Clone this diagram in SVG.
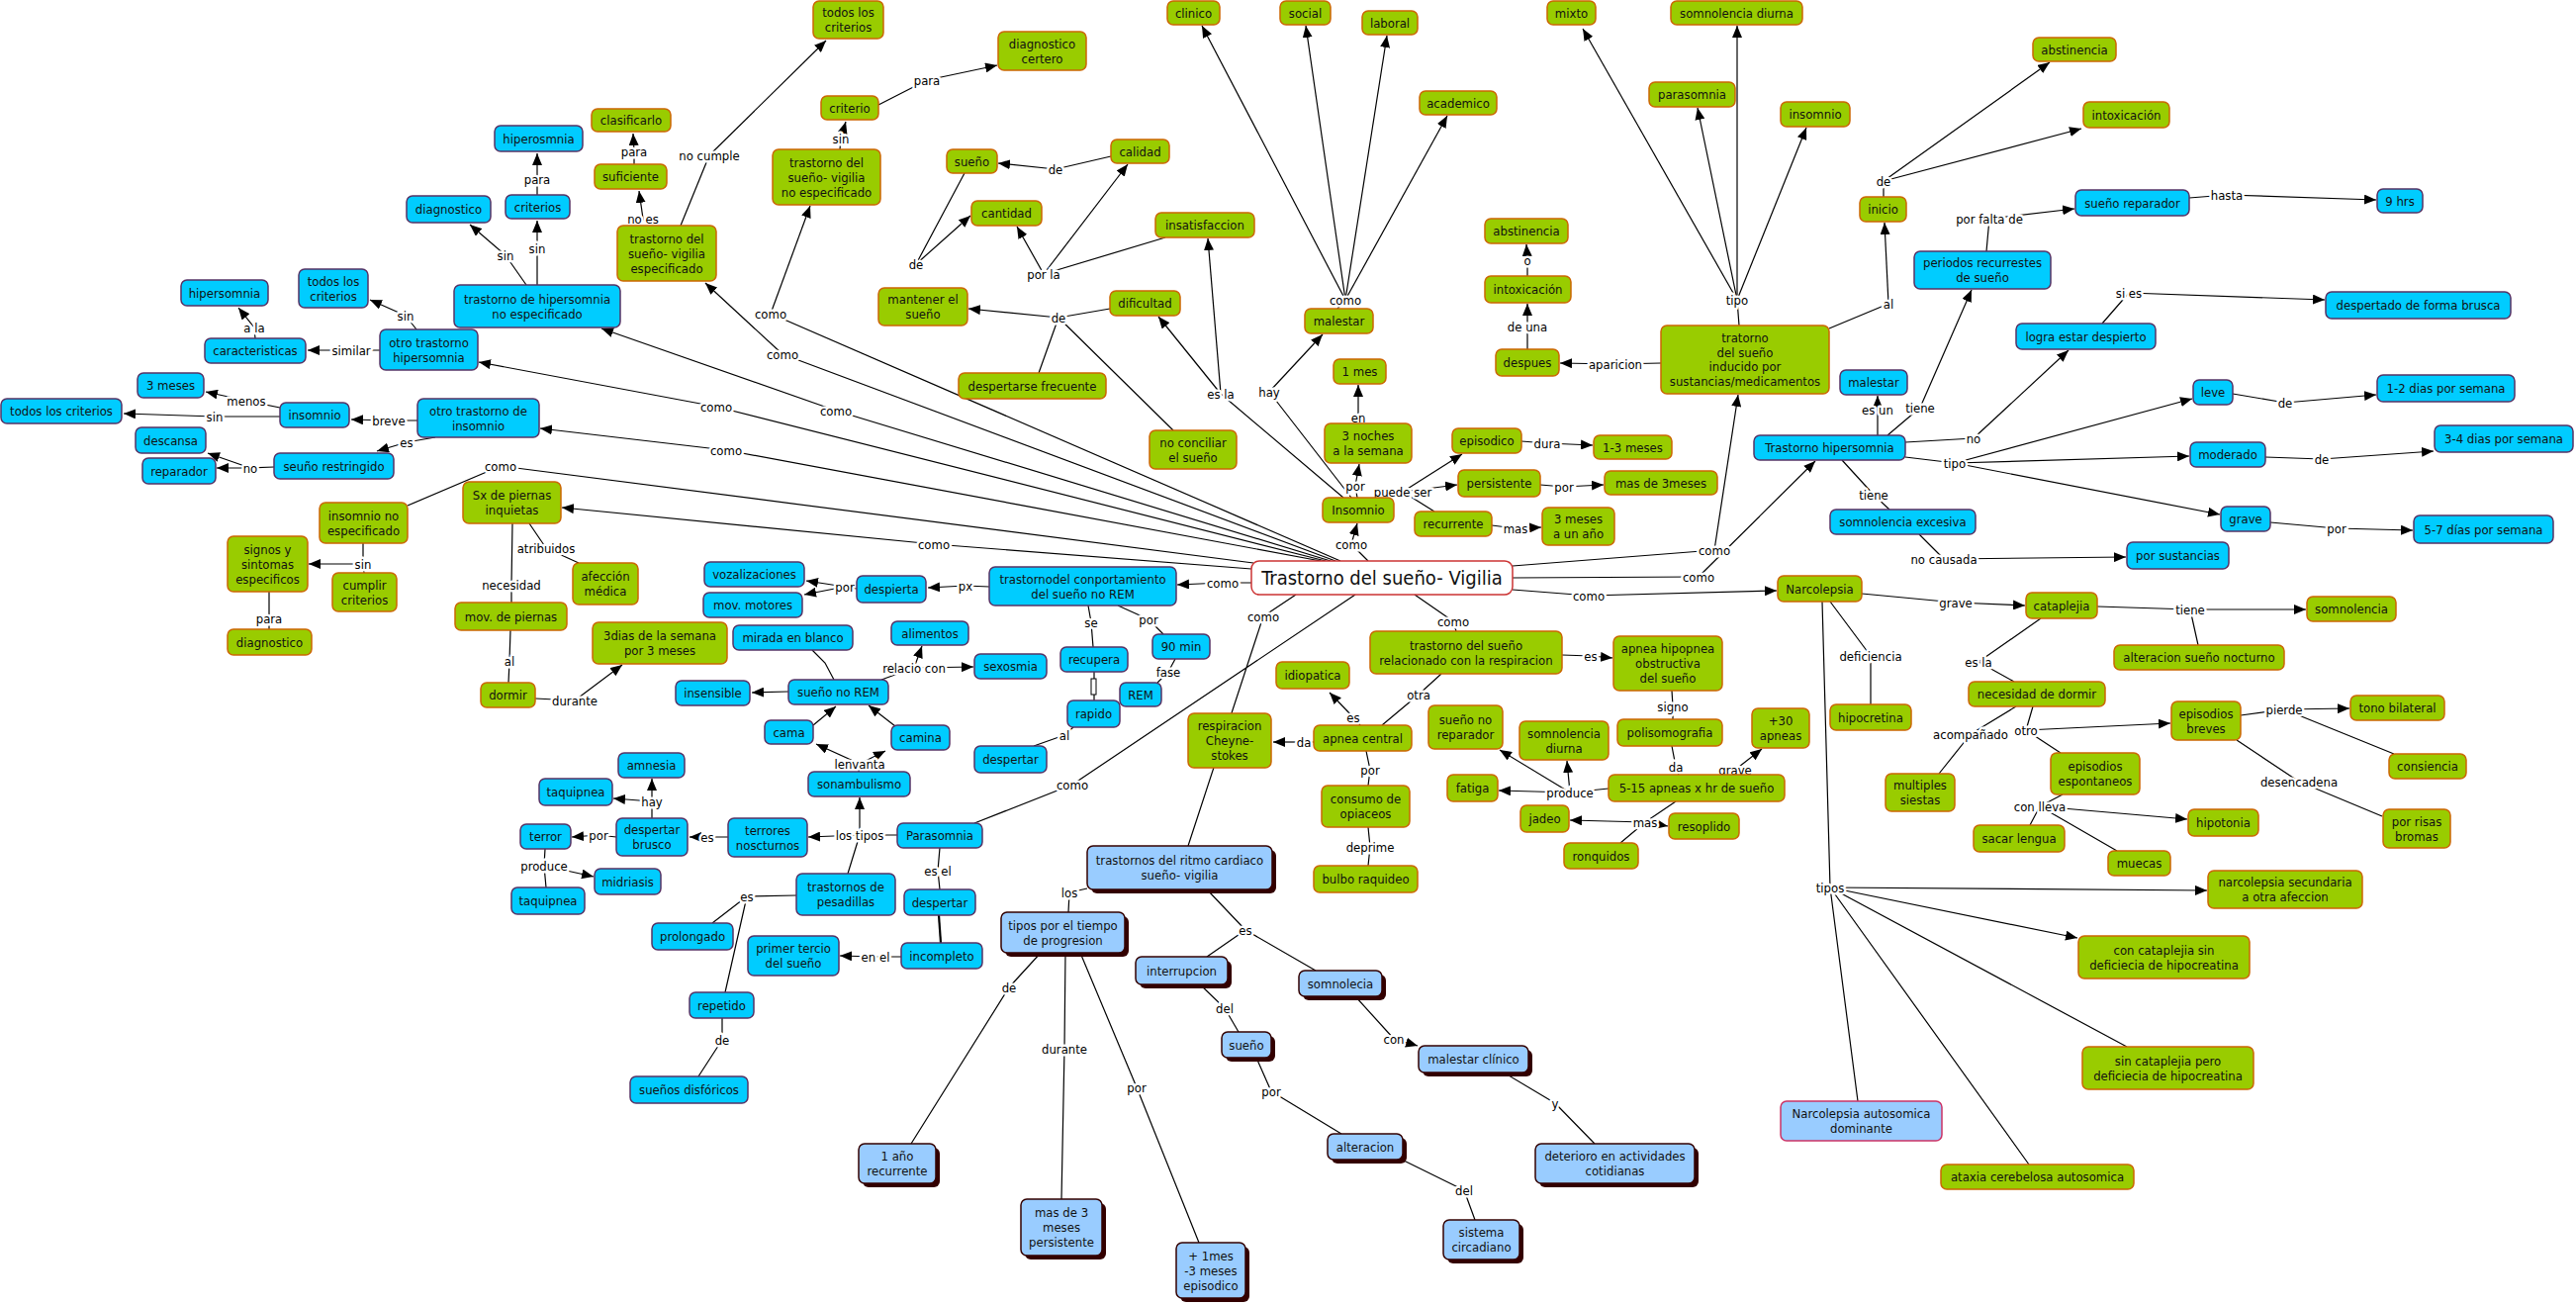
<svg xmlns="http://www.w3.org/2000/svg" width="2604" height="1319" viewBox="0 0 2604 1319">
<defs>
<style>
text{font-family:"DejaVu Sans Condensed","DejaVu Sans",sans-serif;font-stretch:condensed;font-size:13px;text-anchor:middle;fill:#111}
.g{fill:#99cc00;stroke:#cc6600;stroke-width:1.5}
.b{fill:#00ccff;stroke:#553366;stroke-width:1.5}
.lb{fill:#99ccff;stroke:#330000;stroke-width:1.5}
.sh{fill:#330000}
.mn{fill:#fff;stroke:#cc3333;stroke-width:1.5}
.pk{fill:#99ccff;stroke:#cc3366;stroke-width:1.5}
#connectors path{fill:none;stroke:#000;stroke-width:1.2}
#connectors path.a{marker-end:url(#arr)}
.l{stroke:#fff;stroke-width:5;paint-order:stroke;stroke-linejoin:round;fill:#000}
</style>
<marker id="arr" viewBox="0 0 12 10" refX="12" refY="5" markerWidth="12" markerHeight="10" markerUnits="userSpaceOnUse" orient="auto"><path d="M0,0 L12,5 L0,10 z" fill="#000"/></marker>
</defs>
<rect width="2604" height="1319" fill="#fff"/>
<g id="connectors">
<path d="M422 425L393 425M440 442L411 447M283 412L249 405M283 421L217 421M277 472L253 473M384 354L355 354M258 342L257 331M421 333L410 319M532 288L511 258M543 288L543 251M543 197L543 181M656 228L650 221M641 166L641 153M688 228L717 157M849 151L850 140M888 106L937 81M1123 158L1067 171M975 175L926 267M1178 240L1055 277M1122 312L1070 321M1070 321L1050 377M1070 321L1186 435M1358 503L1234 398M1366 503L1283 396M1352 312L1360 303M1372 503L1370 491M1373 428L1373 422M1400 503L1418 497M1418 497L1450 517M1538 446L1564 448M1557 490L1581 492M1508 531L1532 534"/>
<path d="M1383 567L1366 550M1265 589L1236 589M1310 601L1277 623M1277 623L1201 855M1370 601L1084 793M1084 793L985 832M1430 601L1469 628M1469 628L1472 638M1529 596L1606 602M1529 584L1717 583M1529 572L1733 556M1265 575L944 550M1335 567L734 455M1340 567L724 411M1345 567L845 415M1350 567L791 358M1355 567L779 317M1267 569L506 471M506 471L412 511"/>
<path d="M1758 329L1756 303M1679 367L1633 368M1544 353L1544 330M1544 279L1544 263M1849 332L1909 307M1904 199L1904 183M1898 440L1898 414M1908 440L1941 412M2008 254L2011 221M2213 200L2251 197M1926 447L1995 443M1926 462L1976 468M2257 398L2310 407M2290 462L2347 464M2295 528L2362 534M1862 465L1894 500M1894 500L1910 515M1940 540L1965 565M2125 327L2152 296"/>
<path d="M1882 600L1977 609M1850 608L1891 663M1891 663L1891 712M1842 608L1850 897M1850 897L2150 1058M1850 897L1878 1113M1850 897L2051 1177M2120 613L2214 616M2214 616L2222 652M2063 625L2000 669M2000 669L2036 689M2038 714L1992 742M1992 742L1960 782M2055 714L2048 738M2048 738L2083 761M2265 723L2309 717M2309 717L2420 762M2261 748L2324 790M2324 790L2408 825M2085 803L2062 815M2062 815L2052 834M2062 815L2140 860"/>
<path d="M1579 662L1608 663M1457 681L1434 702M1434 702L1397 733M1690 698L1691 714M1691 714L1691 727M1690 754L1694 775M1694 775L1697 783M1740 783L1754 778M1626 797L1587 801M1694 810L1663 831M1663 831L1638 852M1375 733L1368 725M1328 750L1318 750M1381 759L1385 778M1385 778L1383 794M1383 836L1385 856M1385 856L1383 875"/>
<path d="M1000 593L976 592M866 595L854 593M1100 612L1103 629M1103 629L1105 654M1106 679L1106 708M1130 612L1161 626M1161 626L1176 641M1188 666L1181 679M1181 679L1170 690M1085 735L1076 743M1076 743L1045 754M821 657L834 670L843 687M891 687L924 675M868 780L869 772M907 844L869 844M869 844L857 883M950 857L948 880M948 880L950 899M911 967L885 967M736 846L715 846M659 827L659 810M623 846L605 844M551 858L550 875M550 875L552 897M805 905L755 906M755 906L720 933M755 906L733 1003M730 1029L730 1051M730 1051L706 1088"/>
<path d="M949 925L951 953" style="stroke-width:2.2"/>
<path d="M1099 898L1081 902M1081 902L1080 922M1052 963L1020 998M1020 998L921 1156M1077 963L1076 1060M1076 1060L1073 1212M1092 963L1149 1099M1149 1099L1212 1256M1220 899L1259 940M1259 940L1220 967M1259 940L1330 981M1213 995L1238 1019M1238 1019L1252 1043M1270 1069L1285 1103M1285 1103L1356 1146M1370 1007L1409 1050M1520 1084L1572 1115M1572 1115L1612 1156M1417 1172L1480 1203M1480 1203L1491 1233"/>
<path d="M367 549L367 570M367 570L368 579M272 598L272 625M272 625L272 636M535 529L552 554M552 554L585 569M518 529L517 591M517 591L517 609M516 637L515 668M515 668L514 690M541 706L581 708"/>
<path class="a" d="M393 425L355 424"/><path class="a" d="M411 447L381 456"/><path class="a" d="M249 405L208 396"/><path class="a" d="M217 421L125 418"/><path class="a" d="M253 473L219 473"/><path class="a" d="M253 473L210 458"/><path class="a" d="M355 354L311 354"/><path class="a" d="M257 331L241 311"/><path class="a" d="M410 319L374 303"/><path class="a" d="M511 258L475 227"/><path class="a" d="M543 251L543 223"/><path class="a" d="M543 181L543 155"/><path class="a" d="M650 221L646 193"/><path class="a" d="M641 153L640 135"/><path class="a" d="M717 157L835 41"/><path class="a" d="M850 140L855 123"/><path class="a" d="M937 81L1008 66"/><path class="a" d="M1067 171L1009 165"/><path class="a" d="M926 267L981 218"/><path class="a" d="M1055 277L1028 229"/><path class="a" d="M1055 277L1140 166"/><path class="a" d="M1070 321L979 312"/><path class="a" d="M1234 398L1171 320"/><path class="a" d="M1234 398L1221 241"/><path class="a" d="M1283 396L1337 338"/><path class="a" d="M1360 303L1215 26"/><path class="a" d="M1360 303L1320 26"/><path class="a" d="M1360 303L1402 36"/><path class="a" d="M1360 303L1463 117"/><path class="a" d="M1370 491L1374 469"/><path class="a" d="M1373 422L1373 389"/><path class="a" d="M1418 497L1478 459"/><path class="a" d="M1418 497L1473 490"/><path class="a" d="M1564 448L1610 450"/><path class="a" d="M1581 492L1621 490"/><path class="a" d="M1532 534L1558 533"/>
<path class="a" d="M1366 550L1372 529"/><path class="a" d="M1236 589L1190 591"/><path class="a" d="M1606 602L1796 597"/><path class="a" d="M1717 583L1835 466"/><path class="a" d="M1733 556L1757 399"/><path class="a" d="M944 550L568 513"/><path class="a" d="M734 455L546 433"/><path class="a" d="M724 411L484 366"/><path class="a" d="M845 415L608 332"/><path class="a" d="M791 358L713 286"/><path class="a" d="M779 317L819 208"/>
<path class="a" d="M1756 303L1600 29"/><path class="a" d="M1756 303L1756 26"/><path class="a" d="M1756 303L1716 109"/><path class="a" d="M1756 303L1826 129"/><path class="a" d="M1633 368L1577 367"/><path class="a" d="M1544 330L1544 307"/><path class="a" d="M1544 263L1543 247"/><path class="a" d="M1909 307L1905 225"/><path class="a" d="M1904 183L2072 63"/><path class="a" d="M1904 183L2104 130"/>
<path class="a" d="M1898 414L1898 400"/><path class="a" d="M1941 412L1993 293"/><path class="a" d="M2011 221L2097 211"/><path class="a" d="M2251 197L2402 202"/><path class="a" d="M1995 443L2091 354"/><path class="a" d="M1976 468L2216 403"/><path class="a" d="M1976 468L2213 461"/><path class="a" d="M1976 468L2244 520"/><path class="a" d="M2310 407L2402 399"/><path class="a" d="M2347 464L2460 456"/><path class="a" d="M2362 534L2439 536"/><path class="a" d="M1965 565L2149 563"/><path class="a" d="M2152 296L2350 303"/>
<path class="a" d="M1977 609L2047 612"/><path class="a" d="M1850 897L2231 900"/><path class="a" d="M1850 897L2100 948"/><path class="a" d="M2214 616L2331 616"/><path class="a" d="M2048 738L2194 731"/><path class="a" d="M2309 717L2375 716"/><path class="a" d="M2062 815L2211 828"/>
<path class="a" d="M1608 663L1630 665"/><path class="a" d="M1754 778L1781 757"/><path class="a" d="M1587 801L1515 799"/><path class="a" d="M1587 801L1516 758"/><path class="a" d="M1587 801L1584 769"/><path class="a" d="M1663 831L1587 829"/><path class="a" d="M1663 831L1686 835"/><path class="a" d="M1368 725L1344 700"/><path class="a" d="M1318 750L1287 750"/>
<path class="a" d="M976 592L938 594"/><path class="a" d="M854 593L815 587"/><path class="a" d="M854 593L813 601"/><path class="a" d="M797 699L760 700"/><path class="a" d="M924 675L932 653"/><path class="a" d="M924 675L984 674"/><path class="a" d="M822 733L845 714"/><path class="a" d="M905 734L878 713"/><path class="a" d="M869 772L825 752"/><path class="a" d="M869 772L895 759"/><path class="a" d="M869 844L817 846"/><path class="a" d="M869 844L869 806"/><path class="a" d="M885 967L849 966"/><path class="a" d="M715 846L697 846"/><path class="a" d="M659 810L659 787"/><path class="a" d="M659 810L620 807"/><path class="a" d="M605 844L578 846"/><path class="a" d="M550 875L600 886"/>
<path class="a" d="M1409 1050L1433 1057"/><path class="a" d="M367 570L312 570"/><path class="a" d="M581 708L629 672"/>
<rect x="1103" y="686" width="5" height="16" fill="#fff" stroke="#000" stroke-width="1"/>
<g class="lbls">
<text class="l" x="393" y="429.5">breve</text><text class="l" x="411" y="451.5">es</text><text class="l" x="249" y="409.5">menos</text><text class="l" x="217" y="425.5">sin</text><text class="l" x="253" y="477.5">no</text><text class="l" x="355" y="358.5">similar</text><text class="l" x="257" y="335.5">a la</text><text class="l" x="410" y="323.5">sin</text><text class="l" x="511" y="262.5">sin</text><text class="l" x="543" y="255.5">sin</text><text class="l" x="543" y="185.5">para</text><text class="l" x="650" y="225.5">no es</text><text class="l" x="641" y="157.5">para</text><text class="l" x="717" y="161.5">no cumple</text><text class="l" x="850" y="144.5">sin</text><text class="l" x="937" y="85.5">para</text><text class="l" x="1067" y="175.5">de</text><text class="l" x="926" y="271.5">de</text><text class="l" x="1055" y="281.5">por la</text><text class="l" x="1070" y="325.5">de</text><text class="l" x="1234" y="402.5">es la</text><text class="l" x="1283" y="400.5">hay</text><text class="l" x="1360" y="307.5">como</text><text class="l" x="1370" y="495.5">por</text><text class="l" x="1373" y="426.5">en</text><text class="l" x="1418" y="501.5">puede ser</text><text class="l" x="1564" y="452.5">dura</text><text class="l" x="1581" y="496.5">por</text><text class="l" x="1532" y="538.5">mas</text>
<text class="l" x="1366" y="554.5">como</text><text class="l" x="1236" y="593.5">como</text><text class="l" x="1277" y="627.5">como</text><text class="l" x="1084" y="797.5">como</text><text class="l" x="1469" y="632.5">como</text><text class="l" x="1606" y="606.5">como</text><text class="l" x="1717" y="587.5">como</text><text class="l" x="1733" y="560.5">como</text><text class="l" x="944" y="554.5">como</text><text class="l" x="734" y="459.5">como</text><text class="l" x="724" y="415.5">como</text><text class="l" x="845" y="419.5">como</text><text class="l" x="791" y="362.5">como</text><text class="l" x="779" y="321.5">como</text><text class="l" x="506" y="475.5">como</text>
<text class="l" x="1756" y="307.5">tipo</text><text class="l" x="1633" y="372.5">aparicion</text><text class="l" x="1544" y="334.5">de una</text><text class="l" x="1544" y="267.5">o</text><text class="l" x="1909" y="311.5">al</text><text class="l" x="1904" y="187.5">de</text>
<text class="l" x="1898" y="418.5">es un</text><text class="l" x="1941" y="416.5">tiene</text><text class="l" x="2011" y="225.5">por falta de</text><text class="l" x="2251" y="201.5">hasta</text><text class="l" x="1995" y="447.5">no</text><text class="l" x="2152" y="300.5">si es</text><text class="l" x="1976" y="472.5">tipo</text><text class="l" x="2310" y="411.5">de</text><text class="l" x="2347" y="468.5">de</text><text class="l" x="2362" y="538.5">por</text><text class="l" x="1894" y="504.5">tiene</text><text class="l" x="1965" y="569.5">no causada</text>
<text class="l" x="1977" y="613.5">grave</text><text class="l" x="1891" y="667.5">deficiencia</text><text class="l" x="1850" y="901.5">tipos</text><text class="l" x="2214" y="620.5">tiene</text><text class="l" x="2000" y="673.5">es la</text><text class="l" x="1992" y="746.5">acompañado</text><text class="l" x="2048" y="742.5">otro</text><text class="l" x="2309" y="721.5">pierde</text><text class="l" x="2324" y="794.5">desencadena</text><text class="l" x="2062" y="819.5">con lleva</text>
<text class="l" x="1608" y="667.5">es</text><text class="l" x="1434" y="706.5">otra</text><text class="l" x="1691" y="718.5">signo</text><text class="l" x="1694" y="779.5">da</text><text class="l" x="1754" y="782.5">grave</text><text class="l" x="1587" y="805.5">produce</text><text class="l" x="1663" y="835.5">mas</text><text class="l" x="1368" y="729.5">es</text><text class="l" x="1318" y="754.5">da</text><text class="l" x="1385" y="782.5">por</text><text class="l" x="1385" y="860.5">deprime</text>
<text class="l" x="976" y="596.5">px</text><text class="l" x="854" y="597.5">por</text><text class="l" x="1103" y="633.5">se</text><text class="l" x="1161" y="630.5">por</text><text class="l" x="1181" y="683.5">fase</text><text class="l" x="1076" y="747.5">al</text><text class="l" x="924" y="679.5">relacio con</text><text class="l" x="869" y="776.5">lenvanta</text><text class="l" x="869" y="848.5">los tipos</text><text class="l" x="948" y="884.5">es el</text><text class="l" x="885" y="971.5">en el</text><text class="l" x="715" y="850.5">es</text><text class="l" x="659" y="814.5">hay</text><text class="l" x="605" y="848.5">por</text><text class="l" x="550" y="879.5">produce</text><text class="l" x="755" y="910.5">es</text><text class="l" x="730" y="1055.5">de</text>
<text class="l" x="1081" y="906.5">los</text><text class="l" x="1020" y="1002.5">de</text><text class="l" x="1076" y="1064.5">durante</text><text class="l" x="1149" y="1103.5">por</text><text class="l" x="1259" y="944.5">es</text><text class="l" x="1238" y="1023.5">del</text><text class="l" x="1285" y="1107.5">por</text><text class="l" x="1409" y="1054.5">con</text><text class="l" x="1572" y="1119.5">y</text><text class="l" x="1480" y="1207.5">del</text>
<text class="l" x="367" y="574.5">sin</text><text class="l" x="272" y="629.5">para</text><text class="l" x="552" y="558.5">atribuidos</text><text class="l" x="517" y="595.5">necesidad</text><text class="l" x="515" y="672.5">al</text><text class="l" x="581" y="712.5">durante</text>
</g>
</g>
<g id="main"><rect class="mn" x="1265" y="567" width="264" height="34" rx="8"/><text x="1397" y="591" style="font-size:20px">Trastorno del sueño- Vigilia</text></g>
<g id="green-nodes">
<g id="n1"><rect class="g" x="822" y="1" width="71" height="38" rx="6"/><text x="857.5" y="17">todos los<tspan x="857.5" dy="15">criterios</tspan></text></g>
<g id="n2"><rect class="g" x="1009" y="32" width="89" height="39" rx="6"/><text x="1053.5" y="48.5">diagnostico<tspan x="1053.5" dy="15">certero</tspan></text></g>
<g id="n3"><rect class="g" x="830" y="97" width="58" height="24" rx="6"/><text x="859" y="113.5">criterio</text></g>
<g id="n4"><rect class="g" x="781" y="151" width="109" height="56" rx="6"/><text x="835.5" y="168.5">trastorno del<tspan x="835.5" dy="15">sueño- vigilia</tspan><tspan x="835.5" dy="15">no especificado</tspan></text></g>
<g id="n5"><rect class="g" x="598" y="110" width="80" height="23" rx="6"/><text x="638" y="126">clasificarlo</text></g>
<g id="n6"><rect class="g" x="601" y="166" width="73" height="25" rx="6"/><text x="637.5" y="183">suficiente</text></g>
<g id="n7"><rect class="g" x="624" y="228" width="100" height="56" rx="6"/><text x="674" y="245.5">trastorno del<tspan x="674" dy="15">sueño- vigilia</tspan><tspan x="674" dy="15">especificado</tspan></text></g>
<g id="n8"><rect class="g" x="957" y="151" width="51" height="24" rx="6"/><text x="982.5" y="167.5">sueño</text></g>
<g id="n9"><rect class="g" x="1123" y="141" width="59" height="24" rx="6"/><text x="1152.5" y="157.5">calidad</text></g>
<g id="n10"><rect class="g" x="982" y="203" width="71" height="25" rx="6"/><text x="1017.5" y="220">cantidad</text></g>
<g id="n11"><rect class="g" x="1168" y="215" width="100" height="25" rx="6"/><text x="1218" y="232">insatisfaccion</text></g>
<g id="n12"><rect class="g" x="888" y="291" width="90" height="38" rx="6"/><text x="933" y="307">mantener el<tspan x="933" dy="15">sueño</tspan></text></g>
<g id="n13"><rect class="g" x="1122" y="294" width="71" height="25" rx="6"/><text x="1157.5" y="311">dificultad</text></g>
<g id="n14"><rect class="g" x="969" y="377" width="149" height="26" rx="6"/><text x="1043.5" y="394.5">despertarse frecuente</text></g>
<g id="n15"><rect class="g" x="1162" y="435" width="88" height="39" rx="6"/><text x="1206" y="451.5">no conciliar<tspan x="1206" dy="15">el sueño</tspan></text></g>
<g id="n16"><rect class="g" x="1180" y="1" width="53" height="24" rx="6"/><text x="1206.5" y="17.5">clinico</text></g>
<g id="n17"><rect class="g" x="1294" y="1" width="51" height="24" rx="6"/><text x="1319.5" y="17.5">social</text></g>
<g id="n18"><rect class="g" x="1377" y="11" width="56" height="24" rx="6"/><text x="1405" y="27.5">laboral</text></g>
<g id="n19"><rect class="g" x="1435" y="92" width="78" height="24" rx="6"/><text x="1474" y="108.5">academico</text></g>
<g id="n20"><rect class="g" x="1319" y="312" width="69" height="25" rx="6"/><text x="1353.5" y="329">malestar</text></g>
<g id="n21"><rect class="g" x="1348" y="363" width="53" height="25" rx="6"/><text x="1374.5" y="380">1 mes</text></g>
<g id="n22"><rect class="g" x="1339" y="428" width="88" height="40" rx="6"/><text x="1383" y="445">3 noches<tspan x="1383" dy="15">a la semana</tspan></text></g>
<g id="n23"><rect class="g" x="1337" y="503" width="72" height="25" rx="6"/><text x="1373" y="520">Insomnio</text></g>
<g id="n24"><rect class="g" x="1468" y="433" width="70" height="25" rx="6"/><text x="1503" y="450">episodico</text></g>
<g id="n25"><rect class="g" x="1611" y="440" width="79" height="24" rx="6"/><text x="1650.5" y="456.5">1-3 meses</text></g>
<g id="n26"><rect class="g" x="1474" y="475" width="83" height="27" rx="6"/><text x="1515.5" y="493">persistente</text></g>
<g id="n27"><rect class="g" x="1622" y="476" width="114" height="24" rx="6"/><text x="1679" y="492.5">mas de 3meses</text></g>
<g id="n28"><rect class="g" x="1430" y="517" width="78" height="25" rx="6"/><text x="1469" y="534">recurrente</text></g>
<g id="n29"><rect class="g" x="1559" y="513" width="73" height="38" rx="6"/><text x="1595.5" y="529">3 meses<tspan x="1595.5" dy="15">a un año</tspan></text></g>
<g id="n30"><rect class="g" x="1564" y="1" width="49" height="24" rx="6"/><text x="1588.5" y="17.5">mixto</text></g>
<g id="n31"><rect class="g" x="1689" y="1" width="133" height="24" rx="6"/><text x="1755.5" y="17.5">somnolencia diurna</text></g>
<g id="n32"><rect class="g" x="1667" y="83" width="87" height="25" rx="6"/><text x="1710.5" y="100">parasomnia</text></g>
<g id="n33"><rect class="g" x="1800" y="103" width="70" height="25" rx="6"/><text x="1835" y="120">insomnio</text></g>
<g id="n34"><rect class="g" x="1501" y="221" width="84" height="25" rx="6"/><text x="1543" y="238">abstinencia</text></g>
<g id="n35"><rect class="g" x="1501" y="279" width="87" height="27" rx="6"/><text x="1544.5" y="297">intoxicación</text></g>
<g id="n36"><rect class="g" x="1512" y="353" width="64" height="27" rx="6"/><text x="1544" y="371">despues</text></g>
<g id="n37"><rect class="g" x="1679" y="329" width="170" height="69" rx="6"/><text x="1764" y="346">tratorno<tspan x="1764" dy="14.5">del sueño</tspan><tspan x="1764" dy="14.5">inducido por</tspan><tspan x="1764" dy="14.5">sustancias/medicamentos</tspan></text></g>
<g id="n38"><rect class="g" x="1880" y="199" width="47" height="25" rx="6"/><text x="1903.5" y="216">inicio</text></g>
<g id="n39"><rect class="g" x="2055" y="38" width="84" height="24" rx="6"/><text x="2097" y="54.5">abstinencia</text></g>
<g id="n40"><rect class="g" x="2106" y="103" width="87" height="26" rx="6"/><text x="2149.5" y="120.5">intoxicación</text></g>
<g id="n41"><rect class="g" x="468" y="487" width="99" height="42" rx="6"/><text x="517.5" y="505">Sx de piernas<tspan x="517.5" dy="15">inquietas</tspan></text></g>
<g id="n42"><rect class="g" x="323" y="508" width="89" height="41" rx="6"/><text x="367.5" y="525.5">insomnio no<tspan x="367.5" dy="15">especificado</tspan></text></g>
<g id="n43"><rect class="g" x="230" y="542" width="81" height="56" rx="6"/><text x="270.5" y="559.5">signos y<tspan x="270.5" dy="15">sintomas</tspan><tspan x="270.5" dy="15">especificos</tspan></text></g>
<g id="n44"><rect class="g" x="336" y="579" width="65" height="39" rx="6"/><text x="368.5" y="595.5">cumplir<tspan x="368.5" dy="15">criterios</tspan></text></g>
<g id="n45"><rect class="g" x="230" y="636" width="85" height="26" rx="6"/><text x="272.5" y="653.5">diagnostico</text></g>
<g id="n46"><rect class="g" x="579" y="569" width="66" height="42" rx="6"/><text x="612" y="587">afección<tspan x="612" dy="15">médica</tspan></text></g>
<g id="n47"><rect class="g" x="460" y="609" width="113" height="28" rx="6"/><text x="516.5" y="627.5">mov. de piernas</text></g>
<g id="n48"><rect class="g" x="486" y="690" width="55" height="25" rx="6"/><text x="513.5" y="707">dormir</text></g>
<g id="n49"><rect class="g" x="599" y="629" width="136" height="42" rx="6"/><text x="667" y="647">3dias de la semana<tspan x="667" dy="15">por 3 meses</tspan></text></g>
<g id="n50"><rect class="g" x="1385" y="638" width="194" height="43" rx="6"/><text x="1482" y="656.5">trastorno del sueño<tspan x="1482" dy="15">relacionado con la respiracion</tspan></text></g>
<g id="n51"><rect class="g" x="1631" y="643" width="110" height="55" rx="6"/><text x="1686" y="660">apnea hipopnea<tspan x="1686" dy="15">obstructiva</tspan><tspan x="1686" dy="15">del sueño</tspan></text></g>
<g id="n52"><rect class="g" x="1290" y="669" width="74" height="27" rx="6"/><text x="1327" y="687">idiopatica</text></g>
<g id="n53"><rect class="g" x="1328" y="733" width="99" height="26" rx="6"/><text x="1377.5" y="750.5">apnea central</text></g>
<g id="n54"><rect class="g" x="1201" y="721" width="84" height="55" rx="6"/><text x="1243" y="738">respiracion<tspan x="1243" dy="15">Cheyne-</tspan><tspan x="1243" dy="15">stokes</tspan></text></g>
<g id="n55"><rect class="g" x="1444" y="713" width="75" height="44" rx="6"/><text x="1481.5" y="732">sueño no<tspan x="1481.5" dy="15">reparador</tspan></text></g>
<g id="n56"><rect class="g" x="1536" y="729" width="90" height="39" rx="6"/><text x="1581" y="745.5">somnolencia<tspan x="1581" dy="15">diurna</tspan></text></g>
<g id="n57"><rect class="g" x="1635" y="727" width="106" height="27" rx="6"/><text x="1688" y="745">polisomografia</text></g>
<g id="n58"><rect class="g" x="1771" y="716" width="58" height="40" rx="6"/><text x="1800" y="733">+30<tspan x="1800" dy="15">apneas</tspan></text></g>
<g id="n59"><rect class="g" x="1626" y="783" width="178" height="27" rx="6"/><text x="1715" y="801">5-15 apneas x hr de sueño</text></g>
<g id="n60"><rect class="g" x="1463" y="783" width="51" height="27" rx="6"/><text x="1488.5" y="801">fatiga</text></g>
<g id="n61"><rect class="g" x="1336" y="794" width="89" height="42" rx="6"/><text x="1380.5" y="812">consumo de<tspan x="1380.5" dy="15">opiaceos</tspan></text></g>
<g id="n62"><rect class="g" x="1328" y="875" width="105" height="27" rx="6"/><text x="1380.5" y="893">bulbo raquideo</text></g>
<g id="n63"><rect class="g" x="1537" y="814" width="49" height="27" rx="6"/><text x="1561.5" y="832">jadeo</text></g>
<g id="n64"><rect class="g" x="1687" y="822" width="71" height="26" rx="6"/><text x="1722.5" y="839.5">resoplido</text></g>
<g id="n65"><rect class="g" x="1581" y="852" width="75" height="26" rx="6"/><text x="1618.5" y="869.5">ronquidos</text></g>
<g id="n66"><rect class="g" x="1797" y="582" width="85" height="26" rx="6"/><text x="1839.5" y="599.5">Narcolepsia</text></g>
<g id="n67"><rect class="g" x="1850" y="712" width="82" height="26" rx="6"/><text x="1891" y="729.5">hipocretina</text></g>
<g id="n68"><rect class="g" x="1906" y="782" width="70" height="38" rx="6"/><text x="1941" y="798">multiples<tspan x="1941" dy="15">siestas</tspan></text></g>
<g id="n69"><rect class="g" x="2048" y="599" width="72" height="26" rx="6"/><text x="2084" y="616.5">cataplejia</text></g>
<g id="n70"><rect class="g" x="2332" y="603" width="90" height="25" rx="6"/><text x="2377" y="620">somnolencia</text></g>
<g id="n71"><rect class="g" x="2137" y="652" width="172" height="25" rx="6"/><text x="2223" y="669">alteracion sueño nocturno</text></g>
<g id="n72"><rect class="g" x="1990" y="689" width="138" height="25" rx="6"/><text x="2059" y="706">necesidad de dormir</text></g>
<g id="n73"><rect class="g" x="2195" y="709" width="70" height="39" rx="6"/><text x="2230" y="725.5">episodios<tspan x="2230" dy="15">breves</tspan></text></g>
<g id="n74"><rect class="g" x="2376" y="703" width="95" height="25" rx="6"/><text x="2423.5" y="720">tono bilateral</text></g>
<g id="n75"><rect class="g" x="2415" y="762" width="78" height="25" rx="6"/><text x="2454" y="779">consiencia</text></g>
<g id="n76"><rect class="g" x="2409" y="818" width="68" height="39" rx="6"/><text x="2443" y="834.5">por risas<tspan x="2443" dy="15">bromas</tspan></text></g>
<g id="n77"><rect class="g" x="2073" y="761" width="90" height="42" rx="6"/><text x="2118" y="779">episodios<tspan x="2118" dy="15">espontaneos</tspan></text></g>
<g id="n78"><rect class="g" x="2212" y="818" width="71" height="27" rx="6"/><text x="2247.5" y="836">hipotonia</text></g>
<g id="n79"><rect class="g" x="1995" y="834" width="92" height="27" rx="6"/><text x="2041" y="852">sacar lengua</text></g>
<g id="n80"><rect class="g" x="2131" y="860" width="63" height="25" rx="6"/><text x="2162.5" y="877">muecas</text></g>
<g id="n81"><rect class="g" x="2232" y="880" width="156" height="38" rx="6"/><text x="2310" y="896">narcolepsia secundaria<tspan x="2310" dy="15">a otra afeccion</tspan></text></g>
<g id="n82"><rect class="g" x="2101" y="946" width="173" height="43" rx="6"/><text x="2187.5" y="964.5">con cataplejia sin<tspan x="2187.5" dy="15">deficiecia de hipocreatina</tspan></text></g>
<g id="n83"><rect class="g" x="2105" y="1058" width="173" height="43" rx="6"/><text x="2191.5" y="1076.5">sin cataplejia pero<tspan x="2191.5" dy="15">deficiecia de hipocreatina</tspan></text></g>
<g id="n84"><rect class="g" x="1962" y="1177" width="195" height="25" rx="6"/><text x="2059.5" y="1194">ataxia cerebelosa autosomica</text></g>
</g>
<g id="blue-nodes">
<g id="b1"><rect class="b" x="500" y="127" width="89" height="26" rx="6"/><text x="544.5" y="144.5">hiperosmnia</text></g>
<g id="b2"><rect class="b" x="411" y="198" width="85" height="27" rx="6"/><text x="453.5" y="216">diagnostico</text></g>
<g id="b3"><rect class="b" x="511" y="197" width="65" height="24" rx="6"/><text x="543.5" y="213.5">criterios</text></g>
<g id="b4"><rect class="b" x="459" y="288" width="168" height="43" rx="6"/><text x="543" y="306.5">trastorno de hipersomnia<tspan x="543" dy="15">no especificado</tspan></text></g>
<g id="b5"><rect class="b" x="302" y="272" width="70" height="39" rx="6"/><text x="337" y="288.5">todos los<tspan x="337" dy="15">criterios</tspan></text></g>
<g id="b6"><rect class="b" x="183" y="283" width="88" height="26" rx="6"/><text x="227" y="300.5">hipersomnia</text></g>
<g id="b7"><rect class="b" x="207" y="342" width="102" height="25" rx="6"/><text x="258" y="359">caracteristicas</text></g>
<g id="b8"><rect class="b" x="384" y="333" width="99" height="41" rx="6"/><text x="433.5" y="350.5">otro trastorno<tspan x="433.5" dy="15">hipersomnia</tspan></text></g>
<g id="b9"><rect class="b" x="139" y="377" width="67" height="25" rx="6"/><text x="172.5" y="394">3 meses</text></g>
<g id="b10"><rect class="b" x="1" y="403" width="122" height="25" rx="6"/><text x="62" y="420">todos los criterios</text></g>
<g id="b11"><rect class="b" x="283" y="407" width="70" height="25" rx="6"/><text x="318" y="424">insomnio</text></g>
<g id="b12"><rect class="b" x="422" y="403" width="123" height="39" rx="6"/><text x="483.5" y="419.5">otro trastorno de<tspan x="483.5" dy="15">insomnio</tspan></text></g>
<g id="b13"><rect class="b" x="137" y="432" width="71" height="26" rx="6"/><text x="172.5" y="449.5">descansa</text></g>
<g id="b14"><rect class="b" x="144" y="463" width="74" height="26" rx="6"/><text x="181" y="480.5">reparador</text></g>
<g id="b15"><rect class="b" x="277" y="458" width="121" height="26" rx="6"/><text x="337.5" y="475.5">seuño restringido</text></g>
<g id="b16"><rect class="b" x="1773" y="440" width="153" height="25" rx="6"/><text x="1849.5" y="457">Trastorno hipersomnia</text></g>
<g id="b17"><rect class="b" x="1860" y="374" width="68" height="25" rx="6"/><text x="1894" y="391">malestar</text></g>
<g id="b18"><rect class="b" x="1935" y="254" width="138" height="38" rx="6"/><text x="2004" y="270">periodos recurrestes<tspan x="2004" dy="15">de sueño</tspan></text></g>
<g id="b19"><rect class="b" x="2098" y="192" width="115" height="26" rx="6"/><text x="2155.5" y="209.5">sueño reparador</text></g>
<g id="b20"><rect class="b" x="2403" y="191" width="46" height="24" rx="6"/><text x="2426" y="207.5">9 hrs</text></g>
<g id="b21"><rect class="b" x="2351" y="295" width="187" height="27" rx="6"/><text x="2444.5" y="313">despertado de forma brusca</text></g>
<g id="b22"><rect class="b" x="2038" y="327" width="141" height="26" rx="6"/><text x="2108.5" y="344.5">logra estar despierto</text></g>
<g id="b23"><rect class="b" x="2217" y="384" width="40" height="25" rx="6"/><text x="2237" y="401">leve</text></g>
<g id="b24"><rect class="b" x="2403" y="379" width="139" height="27" rx="6"/><text x="2472.5" y="397">1-2 dias por semana</text></g>
<g id="b25"><rect class="b" x="2214" y="447" width="76" height="25" rx="6"/><text x="2252" y="464">moderado</text></g>
<g id="b26"><rect class="b" x="2461" y="430" width="140" height="27" rx="6"/><text x="2531" y="448">3-4 dias por semana</text></g>
<g id="b27"><rect class="b" x="2245" y="512" width="50" height="25" rx="6"/><text x="2270" y="529">grave</text></g>
<g id="b28"><rect class="b" x="2440" y="521" width="141" height="28" rx="6"/><text x="2510.5" y="539.5">5-7 días por semana</text></g>
<g id="b29"><rect class="b" x="1850" y="515" width="147" height="25" rx="6"/><text x="1923.5" y="532">somnolencia excesiva</text></g>
<g id="b30"><rect class="b" x="2150" y="548" width="103" height="27" rx="6"/><text x="2201.5" y="566">por sustancias</text></g>
<g id="b31"><rect class="b" x="1000" y="573" width="189" height="39" rx="6"/><text x="1094.5" y="589.5">trastornodel conportamiento<tspan x="1094.5" dy="15">del sueño no REM</tspan></text></g>
<g id="b32"><rect class="b" x="866" y="582" width="70" height="27" rx="6"/><text x="901" y="600">despierta</text></g>
<g id="b33"><rect class="b" x="712" y="568" width="101" height="25" rx="6"/><text x="762.5" y="585">vozalizaciones</text></g>
<g id="b34"><rect class="b" x="711" y="599" width="100" height="25" rx="6"/><text x="761" y="616">mov. motores</text></g>
<g id="b35"><rect class="b" x="741" y="632" width="121" height="25" rx="6"/><text x="801.5" y="649">mirada en blanco</text></g>
<g id="b36"><rect class="b" x="901" y="628" width="78" height="24" rx="6"/><text x="940" y="644.5">alimentos</text></g>
<g id="b37"><rect class="b" x="985" y="661" width="73" height="25" rx="6"/><text x="1021.5" y="678">sexosmia</text></g>
<g id="b38"><rect class="b" x="797" y="687" width="101" height="25" rx="6"/><text x="847.5" y="704">sueño no REM</text></g>
<g id="b39"><rect class="b" x="683" y="688" width="75" height="25" rx="6"/><text x="720.5" y="705">insensible</text></g>
<g id="b40"><rect class="b" x="773" y="728" width="49" height="24" rx="6"/><text x="797.5" y="744.5">cama</text></g>
<g id="b41"><rect class="b" x="901" y="733" width="59" height="25" rx="6"/><text x="930.5" y="750">camina</text></g>
<g id="b42"><rect class="b" x="817" y="780" width="103" height="25" rx="6"/><text x="868.5" y="797">sonambulismo</text></g>
<g id="b43"><rect class="b" x="1072" y="654" width="68" height="25" rx="6"/><text x="1106" y="671">recupera</text></g>
<g id="b44"><rect class="b" x="1165" y="641" width="58" height="25" rx="6"/><text x="1194" y="658">90 min</text></g>
<g id="b45"><rect class="b" x="1132" y="690" width="42" height="24" rx="6"/><text x="1153" y="706.5">REM</text></g>
<g id="b46"><rect class="b" x="1079" y="708" width="53" height="27" rx="6"/><text x="1105.5" y="726">rapido</text></g>
<g id="b47"><rect class="b" x="985" y="754" width="73" height="27" rx="6"/><text x="1021.5" y="772">despertar</text></g>
<g id="b48"><rect class="b" x="907" y="832" width="86" height="25" rx="6"/><text x="950" y="849">Parasomnia</text></g>
<g id="b49"><rect class="b" x="736" y="827" width="80" height="39" rx="6"/><text x="776" y="843.5">terrores<tspan x="776" dy="15">noscturnos</tspan></text></g>
<g id="b50"><rect class="b" x="625" y="761" width="67" height="25" rx="6"/><text x="658.5" y="778">amnesia</text></g>
<g id="b51"><rect class="b" x="545" y="787" width="74" height="27" rx="6"/><text x="582" y="805">taquipnea</text></g>
<g id="b52"><rect class="b" x="623" y="827" width="72" height="38" rx="6"/><text x="659" y="843">despertar<tspan x="659" dy="15">brusco</tspan></text></g>
<g id="b53"><rect class="b" x="526" y="833" width="51" height="25" rx="6"/><text x="551.5" y="850">terror</text></g>
<g id="b54"><rect class="b" x="601" y="878" width="67" height="26" rx="6"/><text x="634.5" y="895.5">midriasis</text></g>
<g id="b55"><rect class="b" x="517" y="897" width="74" height="27" rx="6"/><text x="554" y="915">taquipnea</text></g>
<g id="b56"><rect class="b" x="805" y="883" width="100" height="42" rx="6"/><text x="855" y="901">trastornos de<tspan x="855" dy="15">pesadillas</tspan></text></g>
<g id="b57"><rect class="b" x="914" y="899" width="72" height="26" rx="6"/><text x="950" y="916.5">despertar</text></g>
<g id="b58"><rect class="b" x="659" y="933" width="82" height="27" rx="6"/><text x="700" y="951">prolongado</text></g>
<g id="b59"><rect class="b" x="911" y="953" width="82" height="26" rx="6"/><text x="952" y="970.5">incompleto</text></g>
<g id="b60"><rect class="b" x="756" y="946" width="92" height="40" rx="6"/><text x="802" y="963">primer tercio<tspan x="802" dy="15">del sueño</tspan></text></g>
<g id="b61"><rect class="b" x="697" y="1003" width="65" height="26" rx="6"/><text x="729.5" y="1020.5">repetido</text></g>
<g id="b62"><rect class="b" x="637" y="1088" width="119" height="27" rx="6"/><text x="696.5" y="1106">sueños disfóricos</text></g>
</g>
<g id="lightblue-nodes">
<g id="lb1"><rect class="sh" x="1103" y="859" width="187" height="44" rx="6"/><rect class="lb" x="1099" y="855" width="187" height="44" rx="6"/><text x="1192.5" y="874">trastornos del ritmo cardiaco<tspan x="1192.5" dy="15">sueño- vigilia</tspan></text></g>
<g id="lb2"><rect class="sh" x="1016" y="926" width="125" height="41" rx="6"/><rect class="lb" x="1012" y="922" width="125" height="41" rx="6"/><text x="1074.5" y="939.5">tipos por el tiempo<tspan x="1074.5" dy="15">de progresion</tspan></text></g>
<g id="lb3"><rect class="sh" x="872" y="1160" width="78" height="40" rx="6"/><rect class="lb" x="868" y="1156" width="78" height="40" rx="6"/><text x="907" y="1173">1 año<tspan x="907" dy="15">recurrente</tspan></text></g>
<g id="lb4"><rect class="sh" x="1036" y="1216" width="82" height="57" rx="6"/><rect class="lb" x="1032" y="1212" width="82" height="57" rx="6"/><text x="1073" y="1230">mas de 3<tspan x="1073" dy="15">meses</tspan><tspan x="1073" dy="15">persistente</tspan></text></g>
<g id="lb5"><rect class="sh" x="1193" y="1260" width="70" height="56" rx="6"/><rect class="lb" x="1189" y="1256" width="70" height="56" rx="6"/><text x="1224" y="1273.5">+ 1mes<tspan x="1224" dy="15">-3 meses</tspan><tspan x="1224" dy="15">episodico</tspan></text></g>
<g id="lb6"><rect class="sh" x="1152" y="971" width="93" height="28" rx="6"/><rect class="lb" x="1148" y="967" width="93" height="28" rx="6"/><text x="1194.5" y="985.5">interrupcion</text></g>
<g id="lb7"><rect class="sh" x="1317" y="985" width="84" height="26" rx="6"/><rect class="lb" x="1313" y="981" width="84" height="26" rx="6"/><text x="1355" y="998.5">somnolecia</text></g>
<g id="lb8"><rect class="sh" x="1239" y="1047" width="50" height="26" rx="6"/><rect class="lb" x="1235" y="1043" width="50" height="26" rx="6"/><text x="1260" y="1060.5">sueño</text></g>
<g id="lb9"><rect class="sh" x="1438" y="1061" width="111" height="27" rx="6"/><rect class="lb" x="1434" y="1057" width="111" height="27" rx="6"/><text x="1489.5" y="1075">malestar clínico</text></g>
<g id="lb10"><rect class="sh" x="1346" y="1150" width="76" height="26" rx="6"/><rect class="lb" x="1342" y="1146" width="76" height="26" rx="6"/><text x="1380" y="1163.5">alteracion</text></g>
<g id="lb11"><rect class="sh" x="1556" y="1160" width="161" height="40" rx="6"/><rect class="lb" x="1552" y="1156" width="161" height="40" rx="6"/><text x="1632.5" y="1173">deterioro en actividades<tspan x="1632.5" dy="15">cotidianas</tspan></text></g>
<g id="lb12"><rect class="sh" x="1463" y="1237" width="77" height="40" rx="6"/><rect class="lb" x="1459" y="1233" width="77" height="40" rx="6"/><text x="1497.5" y="1250">sistema<tspan x="1497.5" dy="15">circadiano</tspan></text></g>
<g id="lb13"><rect class="pk" x="1800" y="1113" width="163" height="40" rx="6"/><text x="1881.5" y="1130">Narcolepsia autosomica<tspan x="1881.5" dy="15">dominante</tspan></text></g>
</g>
</svg>
